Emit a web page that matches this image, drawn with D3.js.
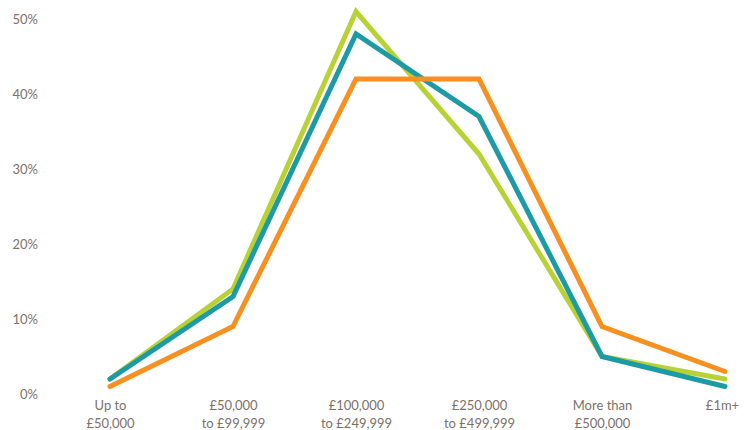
<!DOCTYPE html>
<html>
<head>
<meta charset="utf-8">
<script src="https://cdn.jsdelivr.net/npm/d3@7"></script>
<style>
  html, body { margin: 0; padding: 0; background: #fff; }
  svg text { font-family: Lato, "Open Sans", sans-serif; fill: #7d716a; }
</style>
</head>
<body>
<svg id="chart" width="750" height="430"></svg>
<script>
// Price bands along the x axis (two-line labels)
const categories = [
  ["Up to", "£50,000"],
  ["£50,000", "to £99,999"],
  ["£100,000", "to £249,999"],
  ["£250,000", "to £499,999"],
  ["More than", "£500,000"],
  ["£1m+"]
];
// Share of each series per band, in percent
const greenValues  = [2, 14, 51, 32, 5, 2];
const tealValues   = [2, 13, 48, 37, 5, 1];
const orangeValues = [1, 9, 42, 42, 9, 3];
const yTicks = [0, 10, 20, 30, 40, 50];

const series = [
  { values: greenValues,  color: "#b8d233" },
  { values: tealValues,   color: "#1c9aa6" },
  { values: orangeValues, color: "#f7901e" }
];

const svg = d3.select("#chart");

const x = d3.scalePoint()
  .domain(d3.range(categories.length))
  .range([110, 725]);

const y = d3.scaleLinear()
  .domain([0, 50])
  .range([394, 19]);

// Y axis: percent labels only, no line or ticks
const yAxis = svg.append("g")
  .attr("transform", "translate(38,0)")
  .call(d3.axisLeft(y).tickValues(yTicks).tickSize(0).tickPadding(0).tickFormat(d => d + "%"));
yAxis.select(".domain").remove();
yAxis.selectAll("text")
  .attr("font-size", 13)
  .attr("dy", "0.35em")
  .style("font-family", "Lato, 'Open Sans', sans-serif")
  .attr("fill", "#7d716a");

// X axis: category labels, possibly on two lines
const xAxis = svg.append("g")
  .attr("transform", "translate(0,394)")
  .call(d3.axisBottom(x).tickSize(0).tickFormat(""));
xAxis.select(".domain").remove();
xAxis.selectAll(".tick").each(function(d) {
  const t = d3.select(this).append("text")
    .attr("text-anchor", "middle")
    .attr("font-size", 13)
    .attr("fill", "#7d716a")
    .style("font-family", "Lato, 'Open Sans', sans-serif");
  categories[d].forEach((line, i) => {
    t.append("tspan")
      .attr("x", d === categories.length - 1 ? -3 : 0)
      .attr("y", 16 + i * 18)
      .text(line);
  });
});

const line = d3.line()
  .x((d, i) => x(i))
  .y(d => y(d));

svg.append("g")
  .selectAll("path")
  .data(series)
  .join("path")
  .attr("d", d => line(d.values))
  .attr("fill", "none")
  .attr("stroke", d => d.color)
  .attr("stroke-width", 5)
  .attr("stroke-linejoin", "miter")
  .attr("stroke-linecap", "round");
</script>
</body>
</html>
